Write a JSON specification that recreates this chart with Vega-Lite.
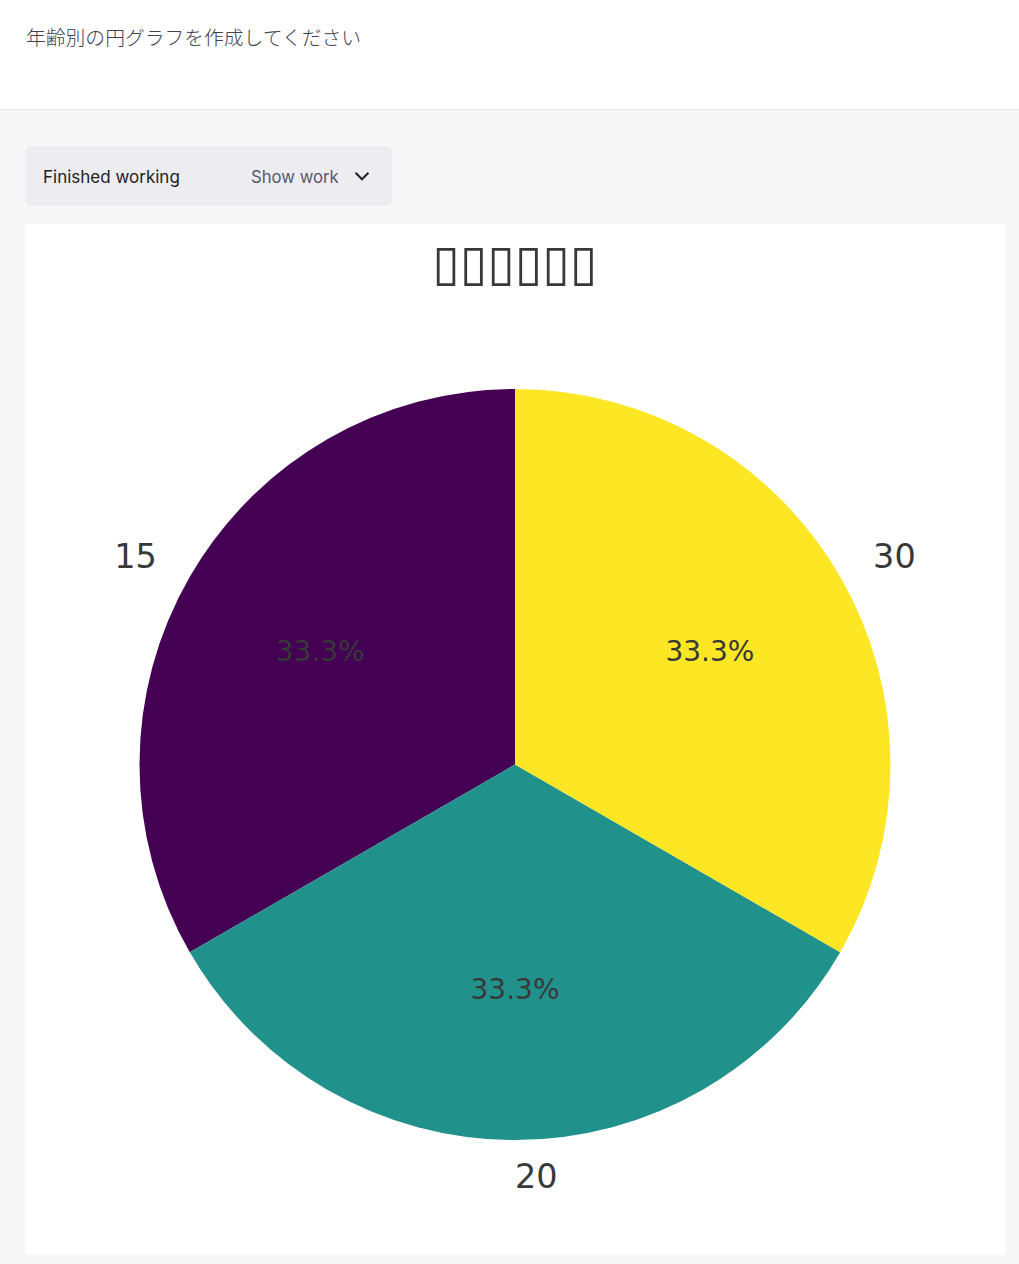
{
  "$schema": "https://vega.github.io/schema/vega-lite/v6.json",
  "description": "Pie chart of ages in a chat answer panel",
  "autosize": {"type": "fit", "contains": "padding"},
  "width": 1019,
  "height": 1264,
  "padding": 0,
  "background": "#f7f7f8",
  "config": {"view": {"stroke": null}, "axis": {"disable": true}, "style": {"cell": {"stroke": null}}},
  "datasets": {
    "ages": [
      {"age": "15", "count": 1, "share": "33.3%"},
      {"age": "20", "count": 1, "share": "33.3%"},
      {"age": "30", "count": 1, "share": "33.3%"}
    ]
  },
  "layer": [
    {
      "data": {"values": [{"part": "prompt band"}]},
      "mark": {"type": "rect", "color": "#ffffff"},
      "encoding": {
        "x": {"datum": 0, "type": "quantitative", "scale": {"domain": [0, 1019], "nice": false, "zero": false}},
        "x2": {"datum": 1019},
        "y": {"datum": 0, "type": "quantitative", "scale": {"domain": [0, 1264], "reverse": true, "nice": false, "zero": false}},
        "y2": {"datum": 109}
      }
    },
    {
      "data": {"values": [{"part": "band rule"}]},
      "mark": {"type": "rect", "color": "#e5e5e5"},
      "encoding": {
        "x": {"datum": 0, "type": "quantitative"},
        "x2": {"datum": 1019},
        "y": {"datum": 109, "type": "quantitative"},
        "y2": {"datum": 110}
      }
    },
    {
      "data": {"values": [{"part": "status bar"}]},
      "mark": {"type": "rect", "color": "#ececf1", "cornerRadius": 6},
      "encoding": {
        "x": {"datum": 25, "type": "quantitative"},
        "x2": {"datum": 392},
        "y": {"datum": 146, "type": "quantitative"},
        "y2": {"datum": 206}
      }
    },
    {
      "data": {"values": [{"part": "chart card"}]},
      "mark": {"type": "rect", "color": "#ffffff"},
      "encoding": {
        "x": {"datum": 25, "type": "quantitative"},
        "x2": {"datum": 1005},
        "y": {"datum": 224, "type": "quantitative"},
        "y2": {"datum": 1254}
      }
    },
    {
      "data": {"values": [{"label": "年齢別の円グラフを作成してください"}]},
      "mark": {"type": "text", "align": "left", "baseline": "middle", "font": "Noto Sans CJK JP", "fontWeight": 300, "fontSize": 19.8, "color": "#40414f"},
      "encoding": {
        "x": {"datum": 26, "type": "quantitative"},
        "y": {"datum": 38.5, "type": "quantitative"},
        "text": {"field": "label"}
      }
    },
    {
      "data": {"values": [{"label": "Finished working"}]},
      "mark": {"type": "text", "align": "left", "baseline": "middle", "font": "Inter", "fontSize": 17, "color": "#202123"},
      "encoding": {
        "x": {"datum": 43, "type": "quantitative"},
        "y": {"datum": 177.5, "type": "quantitative"},
        "text": {"field": "label"}
      }
    },
    {
      "data": {"values": [{"label": "Show work"}]},
      "mark": {"type": "text", "align": "left", "baseline": "middle", "font": "Inter", "fontSize": 16.7, "color": "#565869"},
      "encoding": {
        "x": {"datum": 251, "type": "quantitative"},
        "y": {"datum": 177.5, "type": "quantitative"},
        "text": {"field": "label"}
      }
    },
    {
      "data": {"values": [{"part": "chevron"}]},
      "mark": {"type": "point", "shape": "M-1,-0.5L0,0.5L1,-0.5", "size": 165, "filled": false, "stroke": "#202123", "strokeWidth": 2, "opacity": 1},
      "encoding": {
        "x": {"datum": 362, "type": "quantitative"},
        "y": {"datum": 176, "type": "quantitative"}
      }
    },
    {
      "data": {"values": [{"label": "▯▯▯▯▯▯"}]},
      "mark": {"type": "text", "align": "center", "baseline": "middle", "font": "DejaVu Sans", "fontSize": 50, "color": "#383838"},
      "encoding": {
        "x": {"datum": 515, "type": "quantitative"},
        "y": {"datum": 265, "type": "quantitative"},
        "text": {"field": "label"}
      }
    },
    {
      "data": {"name": "ages"},
      "mark": {"type": "arc", "radius": 375.5},
      "encoding": {
        "x": {"datum": 515, "type": "quantitative"},
        "y": {"datum": 764.5, "type": "quantitative"},
        "theta": {"field": "count", "type": "quantitative", "stack": true},
        "order": {"field": "age", "sort": "descending"},
        "color": {
          "field": "age",
          "type": "nominal",
          "legend": null,
          "scale": {"domain": ["15", "20", "30"], "range": ["#440154", "#21918c", "#fde725"]}
        }
      }
    },
    {
      "data": {"name": "ages"},
      "mark": {"type": "text", "radius": 225, "dy": 1, "align": "center", "baseline": "middle", "font": "DejaVu Sans", "fontSize": 28, "color": "#383838"},
      "encoding": {
        "x": {"datum": 515, "type": "quantitative"},
        "y": {"datum": 764.5, "type": "quantitative"},
        "theta": {"field": "count", "type": "quantitative", "stack": true},
        "order": {"field": "age", "sort": "descending"},
        "text": {"field": "share"}
      }
    },
    {
      "data": {"name": "ages"},
      "mark": {
        "type": "text",
        "radius": 413.5,
        "align": {"expr": "datum.age === '15' ? 'right' : 'left'"},
        "baseline": "middle",
        "font": "DejaVu Sans",
        "fontSize": 33.5,
        "color": "#383838"
      },
      "encoding": {
        "x": {"datum": 515, "type": "quantitative"},
        "y": {"datum": 764.5, "type": "quantitative"},
        "theta": {"field": "count", "type": "quantitative", "stack": true},
        "order": {"field": "age", "sort": "descending"},
        "text": {"field": "age"}
      }
    }
  ]
}
